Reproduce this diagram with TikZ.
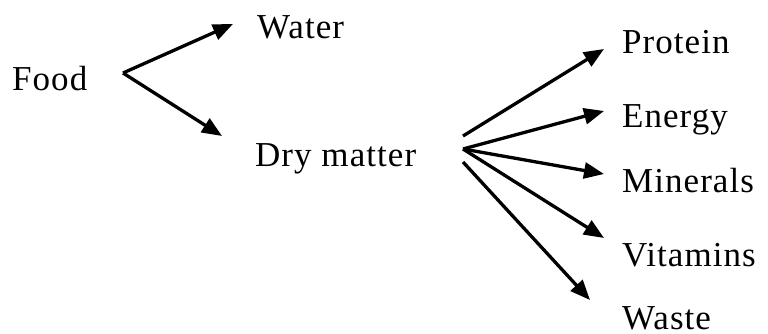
\documentclass[tikz,border=0pt]{standalone}
\usepackage{fontspec}
\usepackage{tikz}
\usetikzlibrary{arrows.meta}
\newfontfamily\diagfont{Liberation Serif}[LetterSpace=3]

\begin{document}
\begin{tikzpicture}[
		x=1pt, y=-1pt,
		item/.style={anchor=base west, inner sep=0pt, font=\diagfont\fontsize{35}{42}\selectfont},
		flow/.style={-{Triangle[length=20pt, width=16pt]}, line width=3.3pt}]
		\useasboundingbox (0,0) rectangle (768,334);

		\node[item] (food) at (12,91) {Food};
		\node[item] (water) at (257,39) {Water};
		\node[item] (dry) at (255,166) {Dry matter};

		\node[item] (protein) at (622,54) {Protein};
		\node[item] (energy) at (622,128) {Energy};
		\node[item] (minerals) at (622,192) {Minerals};
		\node[item] (vitamins) at (622,266) {Vitamins};
		\node[item] (waste) at (622,329) {Waste};

		% split points
		\coordinate (fork) at ([shift={(111,-18)}]food.base west);
		\coordinate (fan) at ([shift={(208,-17)}]dry.base west);
		\coordinate (fanup) at ([shift={(208,-30)}]dry.base west);
		\coordinate (fandown) at ([shift={(208,-4)}]dry.base west);

		\draw[flow] (fork) -- ([shift={(-24,-15)}]water.base west);
		\draw[flow] (fork) -- ([shift={(-33,-30)}]dry.base west);

		\draw[flow] (fanup) -- ([shift={(-18,-5)}]protein.base west);
		\draw[flow] (fan) -- ([shift={(-18,-17)}]energy.base west);
		\draw[flow] (fan) -- ([shift={(-18,-18)}]minerals.base west);
		\draw[flow] (fan) -- ([shift={(-18,-28)}]vitamins.base west);
		\draw[flow] (fandown) -- ([shift={(-32,-29)}]waste.base west);
	\end{tikzpicture}
\end{document}
